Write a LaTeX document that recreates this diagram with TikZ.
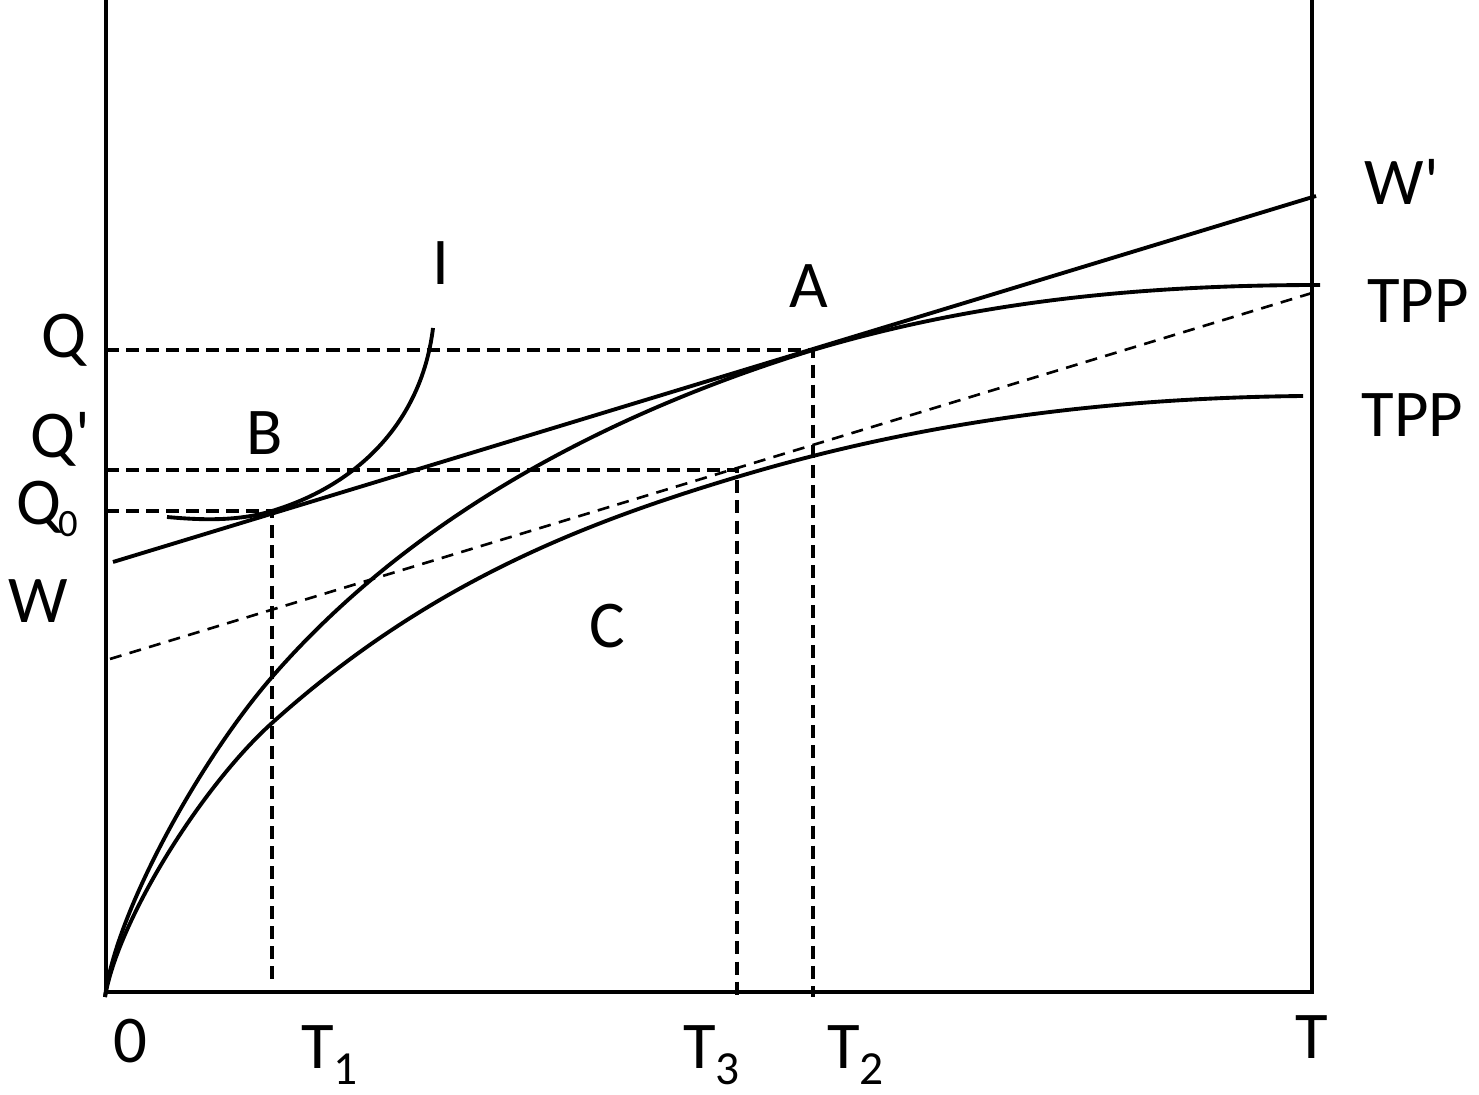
\documentclass[tikz,border=0pt]{standalone}
\usepackage{fontspec}
\newfontfamily\lab{Carlito}
\newcommand{\subT}[1]{\raisebox{-4.8pt}{\fontsize{13.5}{13.5}\selectfont #1}}
\begin{document}
\begin{tikzpicture}[x=0.01cm,y=-0.01cm,
  axisline/.style={line width=1.3pt},
  curve/.style={line width=1.1pt, line join=round},
  guide/.style={line width=0.95pt, dash pattern=on 3.7pt off 2pt},
  thinguide/.style={line width=0.75pt, dash pattern=on 3.4pt off 2.4pt},
  lbl/.style={inner sep=0pt, anchor=base, font=\lab\fontsize{19}{19}\selectfont}]
\useasboundingbox (0,0) rectangle (1479,1095);
% key points
\coordinate (O) at (106,992);
\coordinate (Oc) at (105,997);
\coordinate (Ytop) at (106,0);
\coordinate (Xend) at (1312,992);
\coordinate (Rtop) at (1312,0);
\coordinate (A) at (813,350);
\coordinate (B) at (272,511);
\coordinate (Cpt) at (737,470);
\coordinate (Wl) at (113,562);
\coordinate (Wr) at (1316,196);
\coordinate (Dl) at (110,659);
\coordinate (Dr) at (1312,293);
\coordinate (Qax) at (106,350);
\coordinate (Qpax) at (106,470);
\coordinate (Q0ax) at (106,511);
\coordinate (T1ax) at (272,982);
\coordinate (T3ax) at (737,997);
\coordinate (T2ax) at (813,997);
\coordinate (M1) at (272,677);
\coordinate (E1) at (1320,285);
\coordinate (L1) at (272,723);
\coordinate (L2) at (737,477);
\coordinate (E2) at (1303,396);
\coordinate (Is) at (167,517);
\coordinate (Ie) at (433,328);
% axes
\draw[axisline] (Ytop) -- (O) -- (Xend) -- (Rtop);
% dashed guides
\draw[guide] (Qax) -- (A) -- (T2ax);
\draw[guide] (Qpax) -- (Cpt) -- (T3ax);
\draw[guide] (Q0ax) -- (B) -- (T1ax);
\draw[thinguide] (Dl) -- (Dr);
% wage line W W'
\draw[curve] (Wl) -- (Wr);
% upper TPP
\draw[curve] (Oc) .. controls (116,910) and (202,757.5) .. (M1)
  .. controls (432,493) and (653,399.5) .. (A)
  .. controls (983,299.4) and (1150,285) .. (E1);
% lower TPP
\draw[curve] (Oc) .. controls (118,920) and (202,786) .. (L1)
  .. controls (427,583.5) and (582,523.5) .. (L2)
  .. controls (927,420) and (1113,398) .. (E2);
% indifference curve I
\draw[curve] (Is) .. controls (200,520) and (237,521.6) .. (B)
  .. controls (362,483.7) and (422.2,418) .. (Ie);
% labels
\node[lbl] (lQ) at (63.5,358) {Q};
\node[lbl] (lQp) at (60,458) {Q'};
\node[lbl] (lQ0) at (47.5,525) {Q\kern-1pt\raisebox{-3.4pt}{\fontsize{11}{11}\selectfont 0}};
\node[lbl] (lW) at (38.5,623) {W};
\node[lbl] (lB) at (265,455) {B};
\node[lbl] (lI) at (441,285) {I};
\node[lbl] (lA) at (808.5,308) {A};
\node[lbl] (lC) at (607.5,648) {C};
\node[lbl] (lWp) at (1402,205) {W'};
\node[lbl] (lTPP1) at (1418,323) {TPP};
\node[lbl] (lTPP2) at (1412.5,437) {TPP};
\node[lbl] (l0) at (130,1062) {0};
\node[lbl] (lT1) at (329.5,1068) {T\subT{1}};
\node[lbl] (lT3) at (711.5,1068) {T\subT{3}};
\node[lbl] (lT2) at (855.5,1068) {T\subT{2}};
\node[lbl] (lT) at (1311.5,1058) {T};
\end{tikzpicture}
\end{document}
